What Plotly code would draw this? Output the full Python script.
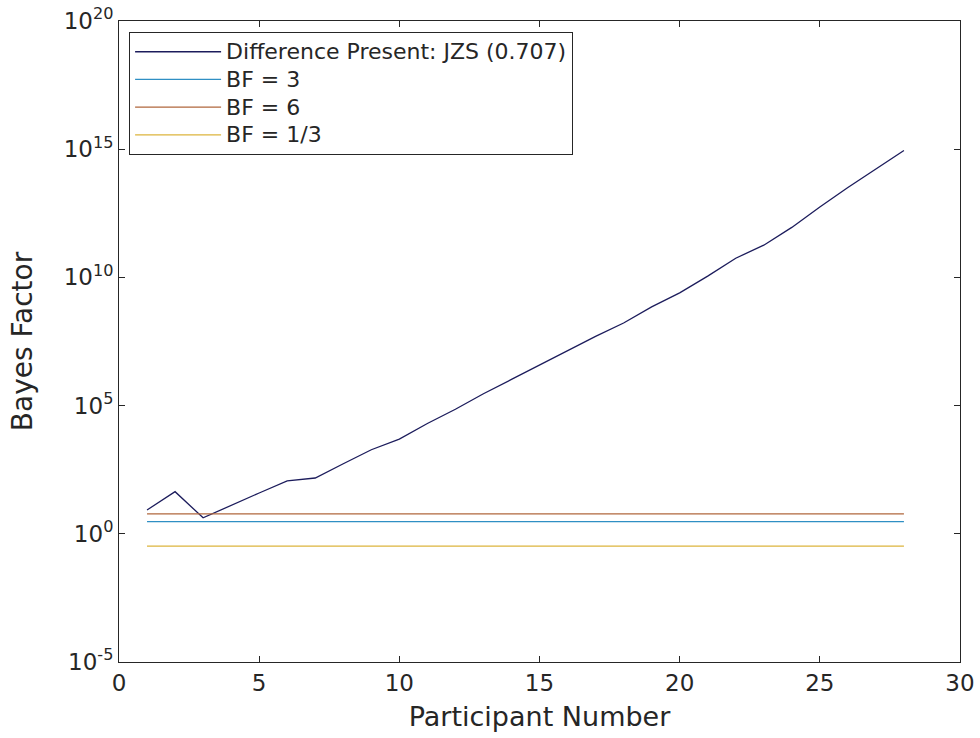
import plotly.graph_objects as go

participants = list(range(1, 29))
bayes_factor = [8.5, 4.4e1, 4.2, 1.3e1, 3.9e1, 1.15e2, 1.5e2, 5.4e2, 1.9e3, 4.9e3,
                2.0e4, 7.2e4, 2.9e5, 1.05e6, 3.8e6, 1.3e7, 5.0e7, 1.66e8, 7.1e8, 2.5e9,
                1.12e10, 5.6e10, 1.8e11, 8.9e11, 5.6e12, 3.2e13, 1.66e14, 8.9e14]
thresholds = [3, 6, 1/3]
threshold_names = ["BF = 3", "BF = 6", "BF = 1/3"]
threshold_colors = ["#2f8fc4", "#b0673c", "#dcb43c"]
x_ticks = [0, 5, 10, 15, 20, 25, 30]
y_ticks = [1e-5, 1e0, 1e5, 1e10, 1e15, 1e20]
y_ticklabels = ["10<sup>-5</sup>", "10<sup>0</sup>", "10<sup>5</sup>",
                "10<sup>10</sup>", "10<sup>15</sup>", "10<sup>20</sup>"]


def legend_label(text):
    return '<span style="font-size:22px">' + text + '</span>'


fig = go.Figure()
fig.add_trace(go.Scatter(x=participants, y=bayes_factor, mode="lines",
                         name=legend_label("Difference Present: JZS (0.707)"),
                         line=dict(color="#1c1c5c", width=1.3)))
for val, nm, col in zip(thresholds, threshold_names, threshold_colors):
    fig.add_trace(go.Scatter(x=[participants[0], participants[-1]], y=[val, val],
                             mode="lines", name=legend_label(nm),
                             line=dict(color=col, width=1.3)))

axis_font = dict(family="DejaVu Sans", size=23, color="#262626")
fig.update_layout(
    width=980, height=738,
    margin=dict(l=119, r=20, t=21, b=76),
    paper_bgcolor="white", plot_bgcolor="white",
    font=dict(family="DejaVu Sans", color="#262626"),
    showlegend=True,
    legend=dict(x=0.012, y=0.983, xanchor="left", yanchor="top",
                bgcolor="white", bordercolor="#262626", borderwidth=1,
                font=dict(family="DejaVu Sans", size=19, color="#262626"),
                tracegroupgap=0, itemwidth=86),
    xaxis=dict(range=[0, 30], tickvals=x_ticks, ticks="inside", ticklen=6,
               tickcolor="#262626", showline=True, linecolor="#262626", linewidth=1,
               mirror="ticks", showgrid=False, zeroline=False, tickfont=axis_font,
               automargin=False,
               title=dict(text="Participant Number",
                          font=dict(family="DejaVu Sans", size=27, color="#262626"),
                          standoff=12)),
    yaxis=dict(type="log", range=[-5, 20], tickvals=y_ticks, ticktext=y_ticklabels,
               ticks="inside", ticklen=6, tickcolor="#262626", showline=True,
               linecolor="#262626", linewidth=1, mirror="ticks", showgrid=False,
               zeroline=False, tickfont=axis_font, automargin=False,
               title=dict(text="Bayes Factor",
                          font=dict(family="DejaVu Sans", size=28, color="#262626"),
                          standoff=22)),
)

fig.write_html("out.html")
